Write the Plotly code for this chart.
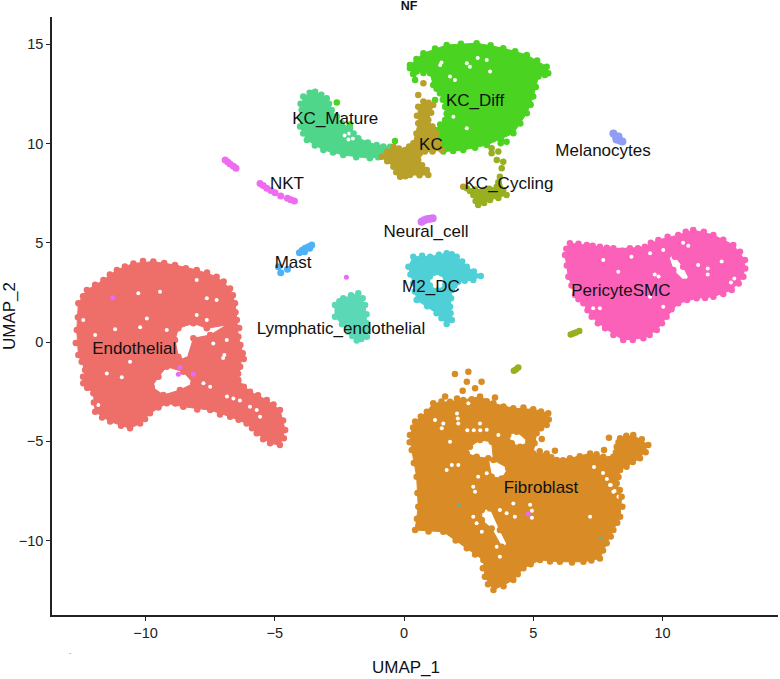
import plotly.graph_objects as go

# ---- cluster outlines, holes and loose cells, in UMAP units ----
endo_x = [-9.70,-8.86,-8.02,-7.25,-6.73,-6.54,-6.47,-6.41,-6.24,-6.34,-6.41,-5.96,-5.31,-4.80,-4.60,-4.80,-5.18,-5.70,-6.09,-6.73,-7.50,-8.54,-9.18,-9.83,-10.21,-10.60,-11.37,-11.95,-12.02,-12.41,-12.34,-12.60,-12.66,-12.60,-12.27,-11.63,-11.11,-10.47]
endo_y = [4.05,3.88,3.63,3.29,2.70,1.95,1.11,0.27,-0.57,-1.24,-1.91,-2.50,-2.92,-3.43,-4.43,-5.19,-5.10,-4.60,-4.10,-3.76,-3.43,-3.26,-3.09,-3.59,-4.10,-4.35,-4.01,-3.51,-2.58,-2.08,-1.41,-0.65,0.60,1.95,2.62,3.12,3.63,3.96]
endo_edge_x = [-9.28,-8.44,-7.62,-6.98,-6.62,-6.52,-6.38,-6.33,-6.20,-6.42,-6.20,-5.65,-5.05,-4.68,-4.65,-5.45,-5.88,-6.40,-7.12,-8.00,-8.85,-9.50,-10.02,-10.95,-11.68,-12.00,-12.25,-12.42,-12.47,-12.70,-12.62,-12.42,-11.95,-11.38,-10.80,-10.10]
endo_edge_y = [3.98,3.72,3.50,3.05,2.35,1.50,0.70,-0.15,-0.85,-1.60,-2.25,-2.68,-3.15,-3.95,-4.85,-4.90,-4.35,-3.92,-3.65,-3.40,-3.10,-3.30,-3.88,-4.22,-3.80,-3.05,-2.30,-1.75,-1.00,-0.05,1.25,2.30,2.88,3.40,3.80,4.08]
endo_holes = [
    ([-8.73,-8.15,-7.63,-6.86,-7.50,-8.15,-8.41,-8.73,-8.86],[0.69,0.94,0.69,0.86,0.35,0.19,-0.91,-0.74,0.10]),
    ([-9.50,-9.18,-8.54,-8.15,-8.67,-9.31,-9.76],[-1.75,-1.24,-1.50,-2.08,-2.42,-2.67,-2.25]),
]
endo_gap_x = [-11.83,-11.50,-10.92,-10.60,-11.95,-12.41,-11.18,-10.21,-9.95,-9.44,-10.28,-7.63,-7.25,-8.02,-8.02,-7.63,-9.18,-6.86,-7.38,-7.76,-7.50,-5.70,-5.96,-5.57,-9.50,-7.00,-6.95,-6.85,-6.60,-6.35]
endo_gap_y = [-3.17,-1.58,-1.78,-0.99,0.35,1.11,0.64,0.74,1.19,2.53,2.45,2.20,2.12,3.12,1.36,1.11,0.60,0.10,-0.07,-2.08,-2.25,-3.43,-3.26,-3.76,-3.26,-0.80,-0.65,-2.75,-2.85,-2.95]
endo_loose_x = [-12.25]
endo_loose_y = [-2.30]

fibro_x = [1.13,1.78,2.29,2.94,3.46,4.23,5.00,5.58,5.52,5.13,5.00,5.52,5.91,6.42,7.20,7.71,8.10,8.23,8.36,8.87,9.45,9.13,8.61,8.36,8.23,8.42,8.36,8.10,7.84,7.58,6.94,6.03,5.26,4.62,4.23,3.46,3.13,3.07,2.43,1.52,0.43,0.55,0.49,0.30,0.23,0.43,0.88]
fibro_y = [-3.09,-3.01,-2.92,-2.75,-3.09,-3.34,-3.39,-3.59,-4.18,-4.60,-5.61,-5.61,-5.94,-5.86,-5.61,-5.78,-5.78,-5.27,-4.85,-4.69,-5.19,-5.86,-6.28,-6.45,-7.12,-7.79,-8.80,-9.47,-10.14,-10.90,-11.07,-11.07,-10.98,-11.40,-11.99,-12.49,-11.82,-10.98,-10.39,-9.56,-9.47,-8.30,-6.79,-5.44,-4.69,-4.01,-3.51]
fibro_edge_x = [1.45,2.05,2.62,3.20,3.85,4.62,5.30,5.60,5.30,5.05,5.25,5.70,6.15,6.80,7.45,7.95,8.20,8.30,8.60,9.20,9.35,8.85,8.30,8.35,8.45,8.25,8.00,7.70,7.25,6.50,5.65,4.90,4.40,3.85,3.25,3.05,2.75,2.00,0.95,0.50,0.52,0.38,0.22,0.35,0.65]
fibro_edge_y = [-3.00,-2.85,-2.88,-2.98,-3.25,-3.30,-3.50,-3.90,-4.35,-5.10,-5.50,-5.80,-5.95,-5.75,-5.65,-5.90,-5.55,-5.05,-4.72,-4.90,-5.55,-6.05,-6.80,-7.45,-8.30,-9.10,-9.80,-10.50,-11.00,-11.10,-11.05,-11.20,-11.70,-12.30,-12.20,-11.40,-10.70,-10.00,-9.55,-8.90,-7.60,-6.10,-5.05,-4.30,-3.75]
fibro_holes = [
    ([2.55,2.94,3.39,3.46,4.03,3.78,3.39,3.26,2.81,2.43],[-5.27,-4.94,-5.02,-5.94,-6.36,-6.87,-6.79,-5.86,-5.78,-5.61]),
    ([3.01,3.33,3.71,4.03,3.78,3.39,3.01],[-8.46,-8.38,-9.47,-10.31,-10.31,-9.39,-8.97]),
    ([4.03,4.36,4.81,4.49,4.17],[-4.69,-4.52,-5.02,-5.27,-5.10]),
]
fibro_gap_x = [2.49,2.94,3.65,1.78,1.46,2.68,2.75,2.87,3.20,1.65,2.68,3.01,2.81,4.23,4.29,3.97,3.71,7.20,8.10,7.97,3.59,3.71,5.13,1.20,1.52,7.70,7.85,8.00,8.15,8.30,7.35,2.45,2.70,2.95,3.20,2.05,2.08,2.10,4.88,4.95,4.95,1.85,2.10,4.42]
fibro_gap_y = [-3.09,-4.10,-4.69,-5.02,-4.35,-7.29,-7.54,-6.79,-6.61,-6.45,-8.80,-9.56,-9.13,-8.13,-8.80,-8.63,-8.46,-8.80,-7.54,-7.20,-10.31,-10.82,-5.36,-3.93,-4.10,-6.60,-6.90,-7.20,-7.50,-7.80,-6.30,-4.45,-4.45,-4.45,-4.42,-3.60,-3.85,-4.10,-8.20,-8.50,-8.85,-6.20,-6.20,-11.70]
fibro_loose_x = [1.97,2.49,2.43,3.00,3.52,2.27,1.59,2.75,5.33,5.84,7.74,7.93]
fibro_loose_y = [-1.61,-1.50,-2.00,-2.00,-2.79,-2.45,-2.75,-2.33,-4.89,-5.48,-5.44,-4.82]

peri_x = [6.42,7.07,7.58,8.10,8.74,9.32,9.84,10.61,11.19,11.97,12.74,13.19,13.13,12.68,11.97,11.32,10.61,10.16,9.78,9.26,8.48,7.78,7.26,6.94,6.62,6.36,6.23]
peri_y = [4.97,4.89,4.80,4.72,4.72,4.80,5.14,5.39,5.64,5.39,4.89,4.13,3.29,2.62,2.28,2.20,1.95,1.27,0.60,0.19,0.10,0.69,1.27,1.95,2.37,3.29,4.38]
peri_edge_x = [6.75,7.30,7.85,8.45,9.05,9.55,10.20,10.90,11.60,12.35,13.00,13.20,12.95,12.35,11.65,10.95,10.35,9.98,9.50,8.85,8.10,7.50,7.10,6.75,6.48,6.30,6.28]
peri_edge_y = [4.95,4.85,4.75,4.60,4.72,5.00,5.30,5.55,5.55,5.15,4.55,3.70,2.95,2.42,2.22,2.12,1.65,0.95,0.35,0.10,0.35,0.95,1.60,2.15,2.85,3.85,4.70]
peri_holes = [
    ([10.22,10.48,10.80,11.06,10.87,10.42],[4.38,4.30,3.79,3.12,3.04,3.63]),
]
peri_gap_x = [7.71,8.29,7.32,7.58,12.29,11.38,9.52,10.03,9.52,10.03,10.80,11.00,9.70,9.85,11.75,11.75,12.65,12.78,8.80]
peri_gap_y = [4.13,3.54,1.70,1.70,4.05,3.88,4.47,4.63,2.28,1.78,5.00,4.85,3.40,3.30,3.70,3.40,3.00,3.20,4.30]

diff_x = [0.23,0.75,1.65,2.81,3.84,4.75,5.52,5.58,5.20,5.00,4.75,4.23,3.20,2.29,1.52,1.13,1.39,1.20,1.59,1.59,1.39,1.13,1.01,0.49,0.43,0.23]
diff_y = [13.95,14.54,14.96,15.05,14.80,14.46,13.87,13.54,13.37,12.36,11.52,10.51,9.92,9.67,9.59,9.67,10.26,10.68,11.18,11.85,12.53,12.95,13.54,13.62,13.20,13.79]
diff_edge_x = [0.48,1.20,2.20,3.35,4.30,5.15,5.45,5.10,4.90,4.50,3.75,2.75,1.90,1.30,1.28,1.40,1.65,1.50,1.26,0.75,0.35]
diff_edge_y = [14.25,14.78,15.02,14.95,14.65,14.18,13.45,12.85,11.95,11.00,10.20,9.78,9.62,9.80,10.50,10.95,11.50,12.20,12.75,13.55,13.50]
diff_gap_x = [2.43,1.91,1.97,2.43,3.33,3.20,1.78,2.55,1.40,1.45,2.85]
diff_gap_y = [10.77,11.35,13.20,14.04,13.62,14.21,13.37,13.87,13.95,14.08,14.30]
diff_loose_x = [1.20,-2.60,-0.35,3.97,3.74,-2.10]
diff_loose_y = [12.19,12.06,10.13,10.09,10.01,10.95]

mature_x = [-3.90,-3.44,-2.99,-2.80,-2.41,-2.09,-1.77,-1.06,-0.54,-0.61,-1.32,-2.35,-3.12,-3.76,-4.02,-3.96]
mature_y = [12.36,12.61,12.28,11.69,11.02,10.77,10.26,9.92,9.84,9.42,9.25,9.42,9.67,10.18,10.85,11.69]
mature_edge_x = [-3.65,-3.20,-2.90,-2.60,-1.95,-1.40,-0.80,-1.00,-1.85,-2.75,-3.45,-3.90,-4.00,-4.00]
mature_edge_y = [12.55,12.45,12.00,11.35,10.50,10.05,9.85,9.30,9.30,9.55,9.90,10.50,11.30,12.00]
mature_gap_x = [-2.30,-2.12,-1.98,-2.15]
mature_gap_y = [10.40,10.50,10.25,10.20]

kc_x = [0.75,1.13,0.94,1.26,1.46,0.81,0.55,0.88,0.94,0.23,-0.15,-0.41,-0.86,-0.41,0.04,0.36,0.55,0.55]
kc_y = [12.11,11.94,11.18,10.51,9.67,9.59,9.17,8.66,8.41,8.41,8.33,8.83,9.33,9.84,9.67,10.01,11.02,11.85]
kc_edge_x = [0.95,1.05,1.10,1.35,1.10,0.70,0.60,0.05,-0.30,-0.65,-0.65,-0.20,0.20,0.48,0.50]
kc_edge_y = [12.05,11.55,10.85,10.10,9.60,8.90,8.40,8.35,8.55,9.10,9.60,9.75,9.85,10.50,11.40]
kc_loose_x = [0.75,0.55,2.29]
kc_loose_y = [13.03,12.44,7.82]

cyc_x = [2.43,3.07,3.59,3.71,3.84,3.97,3.33,2.87,2.68]
cyc_y = [7.74,7.66,7.82,8.33,7.66,7.41,7.15,6.90,7.41]
cyc_edge_x = [2.75,3.30,3.65,3.80,3.65,3.10,2.77,2.55]
cyc_edge_y = [7.68,7.72,8.05,7.55,7.25,7.00,7.10,7.60]
cyc_loose_x = [3.78,3.84,3.65,3.59,3.39,3.39,4.33,4.25,4.42,6.45,6.55,6.65,6.78]
cyc_loose_y = [8.75,9.08,9.59,9.17,9.76,9.51,-1.38,-1.45,-1.28,0.38,0.43,0.48,0.55]

m2_x = [0.17,0.36,1.01,1.65,2.04,2.43,2.97,2.68,2.10,1.85,1.78,1.85,1.65,1.26,0.49,0.36]
m2_y = [3.79,4.30,4.30,4.47,4.30,3.79,3.32,3.12,3.04,2.62,1.78,1.11,0.91,1.45,2.12,2.96]
m2_edge_x = [0.70,1.35,1.85,2.25,2.70,2.35,1.95,1.82,1.80,1.45,0.90,0.42,0.25]
m2_edge_y = [4.35,4.40,4.42,4.05,3.55,3.08,2.85,2.20,1.45,1.20,1.80,2.55,3.40]
m2_holes = [([1.00,1.45,1.60,1.30,1.00],[3.30,3.45,2.90,2.60,2.85])]

lymph_x = [-2.67,-2.35,-1.77,-1.51,-1.44,-1.44,-1.83,-2.15,-2.67]
lymph_y = [1.86,2.20,2.45,1.86,0.94,0.27,0.07,0.52,1.27]
lymph_edge_x = [-2.50,-2.05,-1.60,-1.45,-1.42,-1.65,-2.00,-2.40]
lymph_edge_y = [2.05,2.35,2.20,1.40,0.60,0.15,0.30,0.90]

nkt_x = [-6.92,-6.82,-6.73,-6.60,-6.50,-5.57,-5.45,-5.31,-5.15,-4.99,-4.77,-4.51,-4.38,-4.24]
nkt_y = [9.17,9.07,8.97,8.85,8.75,7.99,7.88,7.74,7.63,7.52,7.36,7.24,7.17,7.10]
neural_x = [0.68,0.78,0.88,1.00,1.11]
neural_y = [6.06,6.13,6.18,6.21,6.23]
mast_x = [-4.05,-3.94,-3.83,-3.70,-3.57,-3.65,-3.85,-4.86,-4.77,-4.51]
mast_y = [4.50,4.62,4.72,4.80,4.89,4.72,4.55,3.79,3.49,3.66]
mela_x = [8.10,8.20,8.35,8.45,8.22,8.30]
mela_y = [10.50,10.35,10.15,10.10,10.20,10.35]

magenta_x = [-2.23,-11.27,-8.67,-8.73,-8.15,4.81]
magenta_y = [3.26,2.23,-1.29,-1.63,-1.63,-8.66]
cyan_x = [2.13,7.61]
cyan_y = [-8.21,-9.89]

# ---- labels and axes ----
label_names = ["Endothelial","KC_Mature","KC_Diff","KC","Melanocytes","NKT","KC_Cycling","Neural_cell","Mast","M2_DC","PericyteSMC","Lymphatic_endothelial","Fibroblast"]
label_x = [-10.44,-2.66,2.75,1.04,7.70,-4.53,4.06,0.85,-4.29,1.04,8.39,-2.44,5.30]
label_y = [-0.40,11.18,12.09,9.90,9.57,7.90,7.91,5.49,3.93,2.72,2.52,0.61,-7.40]
x_ticks = [-10,-5,0,5,10]
y_ticks = [-10,-5,0,5,10,15]
tick_text_x = ["\u221210","\u22125","0","5","10"]
tick_text_y = ["\u221210","\u22125","0","5","10","15"]

fig = go.Figure()

def dots(x, y, color, size=6.5):
    fig.add_trace(go.Scatter(x=x, y=y, mode="markers", marker=dict(color=color, size=size, line=dict(width=0)),
                             hoverinfo="skip", showlegend=False))

def blob(x, y, color, holes=(), edge=((), ()), loose=((), ()), gaps=None):
    fx, fy = list(x) + [x[0]], list(y) + [y[0]]
    for hx, hy in holes:
        fx += [None] + list(hx[::-1]) + [hx[-1]]
        fy += [None] + list(hy[::-1]) + [hy[-1]]
    fig.add_trace(go.Scatter(x=fx, y=fy, mode="lines", fill="toself", fillcolor=color,
                             line=dict(color=color, width=1), hoverinfo="skip", showlegend=False))
    if gaps:
        dots(gaps[0], gaps[1], "white", 4)
    px, py = list(x) + list(edge[0]) + list(loose[0]), list(y) + list(edge[1]) + list(loose[1])
    for hx, hy in holes:
        px += list(hx)
        py += list(hy)
    dots(px, py, color)

blob(endo_x, endo_y, "#EE6E6A", endo_holes, (endo_edge_x, endo_edge_y), (endo_loose_x, endo_loose_y), (endo_gap_x, endo_gap_y))
blob(fibro_x, fibro_y, "#D98C26", fibro_holes, (fibro_edge_x, fibro_edge_y), (fibro_loose_x, fibro_loose_y), (fibro_gap_x, fibro_gap_y))
blob(peri_x, peri_y, "#FB61B8", peri_holes, (peri_edge_x, peri_edge_y), gaps=(peri_gap_x, peri_gap_y))
blob(diff_x, diff_y, "#4AD321", (), (diff_edge_x, diff_edge_y), (diff_loose_x, diff_loose_y), (diff_gap_x, diff_gap_y))
blob(mature_x, mature_y, "#4FD68A", (), (mature_edge_x, mature_edge_y), gaps=(mature_gap_x, mature_gap_y))
blob(kc_x, kc_y, "#B8A02A", (), (kc_edge_x, kc_edge_y), (kc_loose_x, kc_loose_y))
blob(cyc_x, cyc_y, "#98B020", (), (cyc_edge_x, cyc_edge_y), (cyc_loose_x, cyc_loose_y))
blob(m2_x, m2_y, "#4FCFD6", m2_holes, (m2_edge_x, m2_edge_y))
blob(lymph_x, lymph_y, "#5BD8B5", (), (lymph_edge_x, lymph_edge_y))
dots(nkt_x, nkt_y, "#EE6CEF", 7)
dots(neural_x, neural_y, "#D876F5", 8)
dots(mast_x, mast_y, "#4DB2F7", 7)
dots(mela_x, mela_y, "#8F9DF5", 8)
dots(magenta_x, magenta_y, "#E66CF2", 5)
dots(cyan_x, cyan_y, "#35BFC9", 3)

fig.add_trace(go.Scatter(x=label_x, y=label_y, mode="text", text=label_names, textposition="middle center",
                         textfont=dict(family="Liberation Sans", size=17, color="#111111"),
                         hoverinfo="skip", showlegend=False))

axis = dict(showgrid=False, zeroline=False, showline=True, linecolor="#222222", linewidth=1.5,
            ticks="outside", ticklen=4, tickwidth=1.2, tickcolor="#222222", automargin=False,
            tickfont=dict(family="Liberation Sans", size=14.5, color="#222222"),
            tickmode="array")
fig.update_layout(
    width=780, height=679, autosize=False,
    margin=dict(l=52, r=2, t=17, b=64),
    plot_bgcolor="white", paper_bgcolor="white",
    title=dict(text="<b>NF</b>", x=409/780, xanchor="center", y=1-6/679, yanchor="middle",
               font=dict(family="Liberation Sans", size=12.5, color="#111111")),
    xaxis=dict(axis, range=[-13.62, 14.47], tickvals=x_ticks, ticktext=tick_text_x),
    yaxis=dict(axis, range=[-13.75, 16.37], tickvals=y_ticks, ticktext=tick_text_y,
               title=dict(text="UMAP_2", standoff=19, font=dict(family="Liberation Sans", size=17, color="#111111"))),
    annotations=[
        dict(text="UMAP_1", x=(406-52)/726, y=(615-667)/598, xref="paper", yref="paper", showarrow=False,
             xanchor="center", yanchor="middle", font=dict(family="Liberation Sans", size=17, color="#111111")),
        dict(text=".", x=(70-52)/726, y=(615-651)/598, xref="paper", yref="paper", showarrow=False,
             xanchor="center", yanchor="middle", font=dict(family="Liberation Sans", size=8, color="#333333")),
    ],
)
fig.write_html("out.html", config={"displayModeBar": False}, post_script="document.body.style.margin='0'")
